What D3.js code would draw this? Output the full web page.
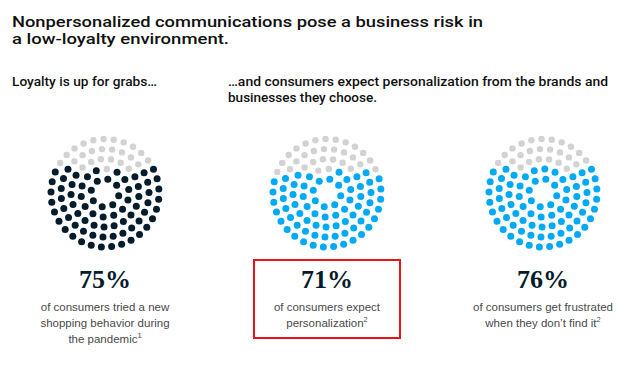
<!DOCTYPE html>
<html>
<head>
<meta charset="utf-8">
<script src="https://cdn.jsdelivr.net/npm/d3@7"></script>
<style>
  body { margin: 0; background: #fff; }
  svg { display: block; }
</style>
</head>
<body>
<svg id="chart" width="642" height="369"></svg>
<script>
// ---data---
var titleLines = ["Nonpersonalized communications pose a business risk in", "a low-loyalty environment."]
var leftHead = ["Loyalty is up for grabs\u2026"]
var rightHead = ["\u2026and consumers expect personalization from the brands and", "businesses they choose."]
var percents = [75, 71, 76]
var fills = ["#051c2c", "#00a9f4", "#00a9f4"]
var notes = [
  [["of consumers tried a new", ""], ["shopping behavior during", ""], ["the pandemic", "1"]],
  [["of consumers expect", ""], ["personalization", "2"]],
  [["of consumers get frustrated", ""], ["when they don\u2019t find it", "2"]]
]
var highlighted = 1   //---red box round the middle one---

var svg = d3.select("#chart")
var ink = "#051c2c"

//---title---
var titleLen = [471, 217]
svg.selectAll("text.title").data(titleLines).enter().append("text")
  .attr("class", "title")
  .attr("x", 12)
  .attr("y", function(d, i) { return 27 + i * 17 })
  .attr("font-family", "Roboto, 'Liberation Sans', sans-serif")
  .attr("font-weight", 500)
  .attr("font-size", 15.5)
  .attr("fill", "#111")
  .attr("textLength", function(d, i) { return titleLen[i] })
  .attr("lengthAdjust", "spacingAndGlyphs")
  .text(function(d) { return d })

//---sub heads---
function head(lines, x, lens) {
  svg.append("g").selectAll("text").data(lines).enter().append("text")
    .attr("x", x)
    .attr("y", function(d, i) { return 86 + i * 16 })
    .attr("font-family", "Roboto, 'Liberation Sans', sans-serif")
    .attr("font-weight", 500)
    .attr("font-size", 12.5)
    .attr("fill", "#111")
    .attr("textLength", function(d, i) { return lens[i] })
    .attr("lengthAdjust", "spacingAndGlyphs")
    .text(function(d) { return d })
}
head(leftHead, 12, [145])
head(rightHead, 228, [380, 149])

//---dot circles---
var cxs = [105, 327, 543]
var cy = 193
var ringR = d3.scaleLinear().domain([0, 4]).range([14, 54])

function makeDots() {
  var dots = []
  d3.range(5).forEach(function(k) {
    var r = ringR(k)
    var n = Math.round(2 * Math.PI * r / 10.4)
    var off = k * 0.55 + 0.2
    d3.range(n).forEach(function(j) {
      var a = off + j * 2 * Math.PI / n
      dots.push({x: r * Math.cos(a), y: r * Math.sin(a), ring: k})
    })
  })
  //---fill from the bottom up---
  dots.sort(function(a, b) { return b.y - a.y || a.x - b.x })
  return dots
}

percents.forEach(function(p, i) {
  var dots = makeDots()
  var on = Math.round(dots.length * p / 100)
  var g = svg.append("g").attr("transform", "translate(" + cxs[i] + "," + cy + ")")
  g.selectAll("circle").data(dots).enter().append("circle")
    .attr("cx", function(d) { return d.x })
    .attr("cy", function(d) { return d.y })
    .attr("r", function(d, j) { return j < on ? 3.5 : 3.2 })
    .attr("fill", function(d, j) { return j < on ? fills[i] : "#d2d2d2" })

  //---big number---
  svg.append("text")
    .attr("x", cxs[i])
    .attr("y", 288)
    .attr("text-anchor", "middle")
    .attr("font-family", "'Liberation Serif', serif")
    .attr("font-weight", "bold")
    .attr("font-size", 26)
    .attr("fill", ink)
    .text(p + "%")

  //---note lines---
  var t = svg.append("g").selectAll("text").data(notes[i]).enter().append("text")
    .attr("x", cxs[i])
    .attr("y", function(d, k) { return 311 + k * 16 })
    .attr("text-anchor", "middle")
    .attr("font-family", "'Liberation Sans', sans-serif")
    .attr("font-size", 11.5)
    .attr("fill", "#4a4a4a")
  t.append("tspan").text(function(d) { return d[0] })
  t.filter(function(d) { return d[1] }).append("tspan")
    .attr("font-size", 7.5)
    .attr("dy", -5)
    .text(function(d) { return d[1] })
})

//---highlight box---
svg.append("rect")
  .attr("x", cxs[highlighted] - 73)
  .attr("y", 260)
  .attr("width", 146)
  .attr("height", 78)
  .attr("fill", "none")
  .attr("stroke", "#e8141b")
  .attr("stroke-width", 2)
</script>
</body>
</html>
